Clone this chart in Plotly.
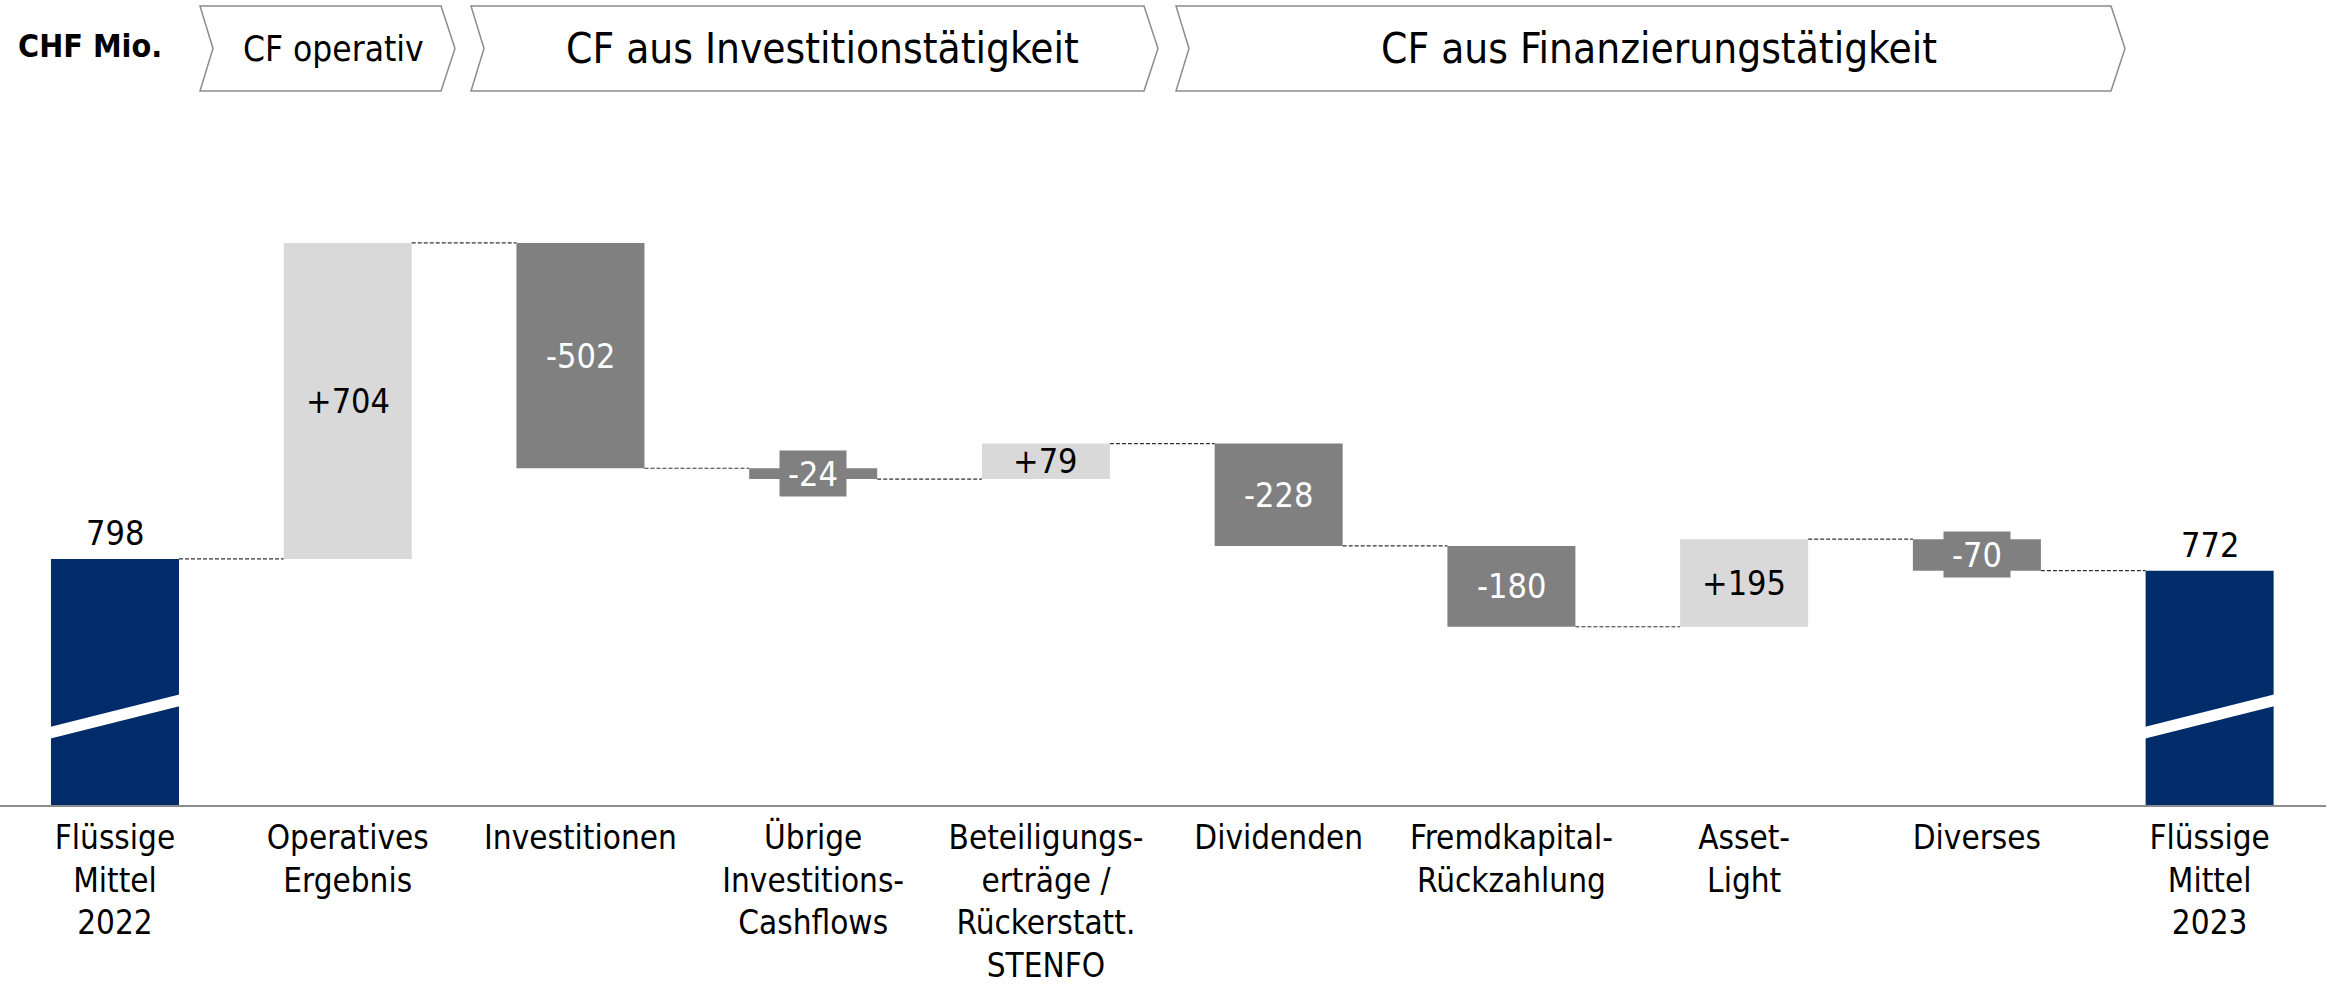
import plotly.graph_objects as go

# categories (x axis) and waterfall values, CHF Mio.
categories = [
    "Flüssige<br>Mittel<br>2022", "Operatives<br>Ergebnis", "Investitionen",
    "Übrige<br>Investitions-<br>Cashflows",
    "Beteiligungs-<br>erträge /<br>Rückerstatt.<br>STENFO",
    "Dividenden", "Fremdkapital-<br>Rückzahlung", "Asset-<br>Light", "Diverses",
    "Flüssige<br>Mittel<br>2023",
]
start_value = 798
deltas = [704, -502, -24, 79, -228, -180, 195, -70]
end_value = 772
segments = ["CF operativ", "CF aus Investitionstätigkeit", "CF aus Finanzierungstätigkeit"]

FONT = "DejaVu Sans Condensed, Liberation Sans Narrow, sans-serif"
NAVY = "#002D69"
DARK = "#808080"
LIGHT = "#D9D9D9"
BW = 0.55
Y0, Y1 = 250, 2043          # broken axis: bars start at the bottom of the plot
PW, PH = 2326, 805          # plot area in px (used for paper coords)

levels = [start_value]
for d in deltas:
    levels.append(levels[-1] + d)

fig = go.Figure()

# start / end bars
fig.add_trace(go.Bar(x=[0, 9], y=[start_value, end_value], base=[0, 0], width=BW,
                     marker=dict(color=NAVY, line_width=0), hoverinfo="skip"))

# delta bars
xs = list(range(1, len(deltas) + 1))
fig.add_trace(go.Bar(
    x=xs, y=deltas, base=levels[:-1], width=BW,
    marker=dict(color=[LIGHT if d > 0 else DARK for d in deltas], line_width=0),
    hoverinfo="skip"))

shapes = []
annotations = []

# dashed connectors
for i in range(len(levels)):
    shapes.append(dict(type="line", xref="x", yref="y", x0=i + BW / 2, x1=i + 1 - BW / 2,
                       y0=levels[i], y1=levels[i], line=dict(color="#333333", width=1.2, dash="4px,2px")))

# axis break marks on the start / end bars
for xb in [0, 9]:
    l, r = xb - BW / 2 - 0.01, xb + BW / 2 + 0.01
    shapes.append(dict(type="path", xref="x", yref="y", layer="above", line_width=0, fillcolor="white",
                       path=f"M {l},{397} L {r},{471} L {r},{497} L {l},{423} Z"))

# value labels
for xv, v in [(0, start_value), (9, end_value)]:
    annotations.append(dict(x=xv, y=v, xref="x", yref="y", text=str(v), showarrow=False,
                            yanchor="bottom", yshift=4, font=dict(size=34, color="black")))
for i, d in enumerate(deltas):
    mid = levels[i] + d / 2
    lab = f"{d:+d}"
    if d > 0:
        annotations.append(dict(x=i + 1, y=mid, xref="x", yref="y", text=lab, showarrow=False,
                                font=dict(size=34, color="black")))
    elif abs(d) < 100:
        annotations.append(dict(x=i + 1, y=mid, xref="x", yref="y", text=lab, showarrow=False,
                                bgcolor=DARK, width=66, height=45, borderpad=0,
                                font=dict(size=34, color="white")))
    else:
        annotations.append(dict(x=i + 1, y=mid, xref="x", yref="y", text=lab, showarrow=False,
                                font=dict(size=34, color="white")))

# header chevrons
def px(x):
    return x / PW

def py(y):
    return (PH - y) / PH

chevrons = [(200, 441, 334, 35), (471, 1144, 823, 42), (1176, 2111, 1659, 42)]
top, bot, midy, notch, tip = 6, 91, 48.5, 13, 14
for (left, right, tx, fs), label in zip(chevrons, segments):
    pts = [(left, top), (right, top), (right + tip, midy), (right, bot), (left, bot), (left + notch, midy)]
    path = "M " + " L ".join(f"{px(a):.5f},{py(b):.5f}" for a, b in pts) + " Z"
    shapes.append(dict(type="path", xref="paper", yref="paper", path=path,
                       line=dict(color="#8C8C8C", width=1.5), fillcolor="white"))
    annotations.append(dict(x=px(tx), y=py(49), xref="paper", yref="paper", text=label,
                            xanchor="center", yanchor="middle",
                            showarrow=False, font=dict(size=fs, color="black")))

annotations.append(dict(x=px(16), y=py(46), xref="paper", yref="paper", text="<b>CHF Mio.</b>",
                        showarrow=False, xanchor="left", yanchor="middle",
                        font=dict(size=32, color="black")))

fig.update_layout(
    width=2338, height=990,
    margin=dict(l=0, r=12, t=0, b=185),
    plot_bgcolor="white", paper_bgcolor="white",
    showlegend=False, barmode="overlay",
    font=dict(family=FONT, size=34, color="black"),
    shapes=shapes, annotations=annotations,
    xaxis=dict(range=[-0.494, 9.5], tickvals=list(range(10)), ticktext=categories,
               showline=True, linecolor="#8C8C8C", linewidth=2, showgrid=False, zeroline=False,
               ticks="", tickfont=dict(size=33, color="black"), ticklabelstandoff=2,
               automargin=False, fixedrange=True),
    yaxis=dict(range=[Y0, Y1], visible=False, showgrid=False, zeroline=False,
               automargin=False, fixedrange=True),
)

fig.write_html("out.html", config={"displayModeBar": False},
               post_script="document.body.style.margin='0';document.body.style.overflow='hidden';")
